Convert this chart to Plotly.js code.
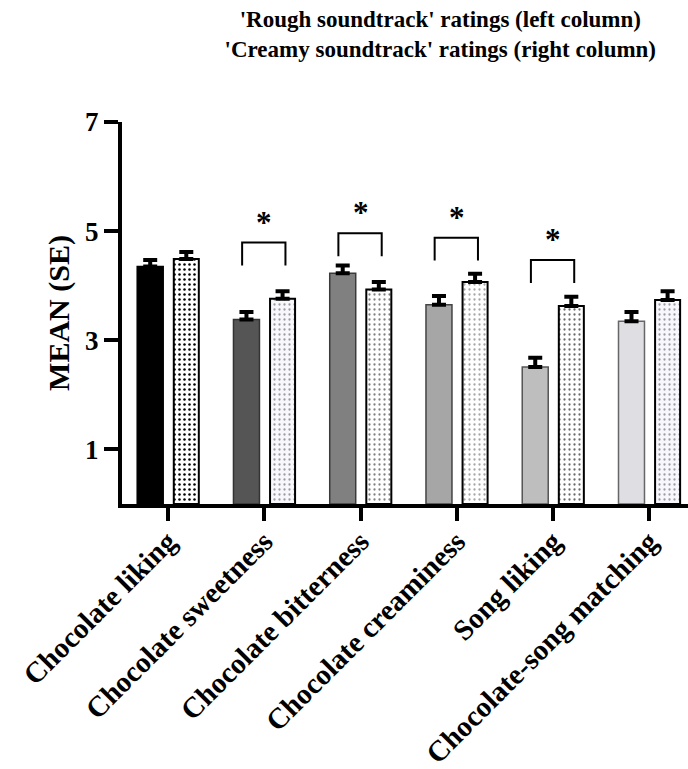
<!DOCTYPE html>
<html>
<head>
<meta charset="utf-8">
<script src="https://cdn.plot.ly/plotly-3.0.1.min.js"></script>
<style>html,body{margin:0;padding:0;background:#fff;}#chart{width:688px;height:769px;}</style>
</head>
<body>
<div id="chart"></div>
<script>
// ---- data ----
const categories = ["Chocolate liking", "Chocolate sweetness", "Chocolate bitterness",
                    "Chocolate creaminess", "Song liking", "Chocolate-song matching"];
const roughMean  = [4.35, 3.38, 4.23, 3.65, 2.51, 3.35];
const roughSE    = [0.12, 0.14, 0.14, 0.16, 0.17, 0.17];
const creamyMean = [4.49, 3.76, 3.93, 4.07, 3.63, 3.74];
const creamySE   = [0.13, 0.14, 0.14, 0.15, 0.17, 0.16];
const sigGroups  = [1, 2, 3, 4];          // indices of categories with significant difference
const bracketTop = [4.79, 4.96, 4.88, 4.47];
const yTicks     = [1, 3, 5, 7];

// ---- styles ----
const roughColors  = ["#000000", "#555555", "#808080", "#a6a6a6", "#bebebe", "#dfdfe3"];
const roughLines   = ["#000000", "#333333", "#3a3a3a", "#444444", "#555555", "#666666"];
const dotColors    = ["#000000", "#9a9a9a", "#808080", "#a4a4a4", "#6a6a6a", "#9a9aa2"];
const dotBg        = ["#ffffff", "#f8f8fc", "#ffffff", "#ffffff", "#ffffff", "#f7f7fc"];

const idx = categories.map((c, i) => i);
const font = "Liberation Serif, Times New Roman, serif";

const errStyle = {thickness: 4, width: 7, color: "#000"};

const traces = [
  {
    type: "bar", name: "Rough soundtrack", x: idx, y: roughMean,
    width: 0.27, offset: -0.32,
    marker: {color: roughColors, line: {color: roughLines, width: 1.5}},
    error_y: Object.assign({type: "data", symmetric: false, array: roughSE,
                            arrayminus: roughSE.map(() => 0)}, errStyle),
    hoverinfo: "skip"
  }
].concat(idx.map(i => ({
    type: "bar", name: "Creamy soundtrack", x: [i], y: [creamyMean[i]],
    width: 0.26, offset: 0.06,
    marker: {color: dotBg[i], line: {color: "#000", width: 2},
             pattern: {shape: ".", fgcolor: dotColors[i], bgcolor: dotBg[i], size: 5,
                       solidity: i === 0 ? 0.2 : 0.16, fgopacity: 1, fillmode: "overlay"}},
    error_y: Object.assign({type: "data", symmetric: false, array: [creamySE[i]],
                            arrayminus: [0]}, errStyle),
    hoverinfo: "skip"
})));

const legDrop = 0.42, bL = -0.23, bR = 0.22;
const shapes = sigGroups.map((g, k) => ({
  type: "path", xref: "x", yref: "y",
  path: `M ${g + bL} ${bracketTop[k] - legDrop} L ${g + bL} ${bracketTop[k]} L ${g + bR} ${bracketTop[k]} L ${g + bR} ${bracketTop[k] - legDrop}`,
  line: {color: "#000", width: 2}
}));

const annotations = sigGroups.map((g, k) => ({
  xref: "x", yref: "y", x: g, y: bracketTop[k], text: "*", showarrow: false,
  xanchor: "center", yanchor: "bottom", yshift: 1,
  font: {family: font, size: 31, color: "#000", weight: "bold"}
}));

const layout = {
  width: 688, height: 769,
  margin: {l: 122, r: 0, t: 122, b: 265},
  paper_bgcolor: "#fff", plot_bgcolor: "#fff",
  showlegend: false,
  barmode: "overlay",
  title: {
    text: "'Rough soundtrack' ratings (left column)<br>'Creamy soundtrack' ratings (right column)",
    xref: "container", x: 0.64, xanchor: "center",
    yref: "container", y: 0.965, yanchor: "top",
    font: {family: font, size: 23, color: "#000", weight: "bold"}
  },
  xaxis: {
    range: [-0.478, 5.402],
    tickmode: "array", tickvals: idx, ticktext: categories,
    tickangle: -45,
    ticks: "outside", ticklen: 13, tickwidth: 4, tickcolor: "#000",
    ticklabelstandoff: -8,
    showline: true, linewidth: 4, linecolor: "#000",
    showgrid: false, zeroline: false,
    tickfont: {family: font, size: 29, color: "#000", weight: "bold"}
  },
  yaxis: {
    range: [0, 7],
    tickmode: "array", tickvals: yTicks,
    ticks: "outside", ticklen: 14, tickwidth: 4, tickcolor: "#000",
    showline: true, linewidth: 4, linecolor: "#000",
    showgrid: false, zeroline: false,
    tickfont: {family: font, size: 27, color: "#000", weight: "bold"},
    title: {text: "MEAN (SE)", standoff: 8,
            font: {family: font, size: 30, color: "#000", weight: "bold"}}
  },
  shapes: shapes,
  annotations: annotations
};

Plotly.newPlot("chart", traces, layout, {displayModeBar: false, staticPlot: true});
</script>
</body>
</html>
